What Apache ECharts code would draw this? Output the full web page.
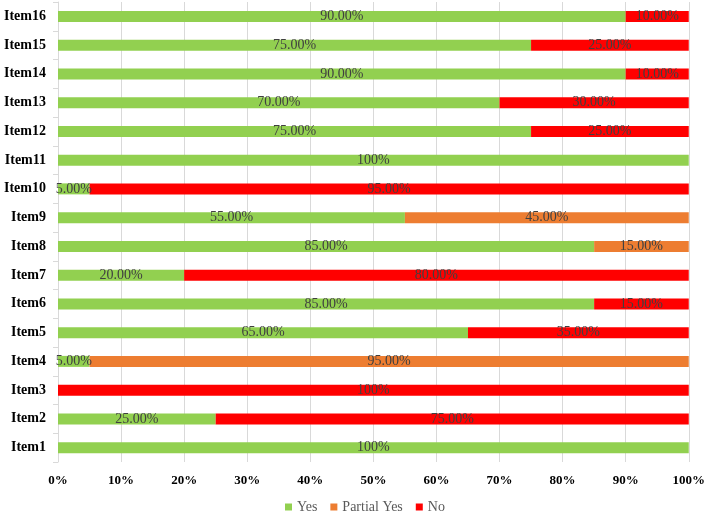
<!DOCTYPE html>
<html>
<head>
<meta charset="utf-8">
<script src="https://cdn.jsdelivr.net/npm/echarts@6/dist/echarts.min.js"></script>
<style>
  html, body { margin: 0; padding: 0; background: #fff; }
  #chart { width: 708px; height: 517px; }
</style>
</head>
<body>
<div id="chart"></div>
<script>
// categories, bottom to top
var items = ['Item1', 'Item2', 'Item3', 'Item4', 'Item5', 'Item6', 'Item7', 'Item8',
	'Item9', 'Item10', 'Item11', 'Item12', 'Item13', 'Item14', 'Item15', 'Item16'];

// shares in percent
var yesValues     = [100, 25, 0, 5, 65, 85, 20, 85, 55, 5, 100, 75, 70, 90, 75, 90];
var partialValues = [0, 0, 0, 95, 0, 0, 0, 15, 45, 0, 0, 0, 0, 0, 0, 0];
var noValues      = [0, 75, 100, 0, 35, 15, 80, 0, 0, 95, 0, 25, 30, 10, 25, 10];

var xTicks = [0, 10, 20, 30, 40, 50, 60, 70, 80, 90, 100];

var font = '"Liberation Serif", "Times New Roman", serif';

function fmtLabel(p) {
	if (!p.value) return '';
	return p.value === 100 ? '100%' : p.value.toFixed(2) + '%';
}

function makeSeries(name, data, color) {
	return {
		name: name,
		type: 'bar',
		stack: 'total',
		data: data,
		barWidth: 11,
		itemStyle: { color: color },
		label: {
			show: true,
			position: 'inside',
			formatter: fmtLabel,
			color: '#404040',
			fontFamily: font,
			fontSize: 14
		}
	};
}

var chart = echarts.init(document.getElementById('chart'));
chart.setOption({
	animation: false,
	textStyle: { fontFamily: font },
	grid: { left: 58, right: 19, top: 2, bottom: 55, containLabel: false },
	legend: {
		top: 495,
		left: 280,
		itemWidth: 7,
		itemHeight: 7,
		itemGap: 13,
		icon: 'rect',
		textStyle: { fontFamily: font, fontSize: 14, color: '#595959' },
		data: ['Yes', 'Partial Yes', 'No']
	},
	xAxis: {
		type: 'value',
		min: 0,
		max: 100,
		interval: 10,
		axisLine: { show: false },
		axisTick: { show: false },
		splitLine: { lineStyle: { color: '#d9d9d9' } },
		axisLabel: {
			margin: 12,
			fontFamily: font,
			fontSize: 13,
			fontWeight: 'bold',
			color: '#000',
			formatter: function (v) { return xTicks.indexOf(v) >= 0 ? v + '%' : ''; }
		}
	},
	yAxis: {
		type: 'category',
		data: items,
		axisLine: { show: true, lineStyle: { color: '#d9d9d9' } },
		axisTick: { show: true, length: 5, lineStyle: { color: '#d9d9d9' } },
		axisLabel: {
			margin: 12,
			fontFamily: font,
			fontSize: 14,
			fontWeight: 'bold',
			color: '#000'
		}
	},
	series: [
		makeSeries('Yes', yesValues, '#92D050'),
		makeSeries('Partial Yes', partialValues, '#ED7D31'),
		makeSeries('No', noValues, '#FF0000')
	]
});
</script>
</body>
</html>
